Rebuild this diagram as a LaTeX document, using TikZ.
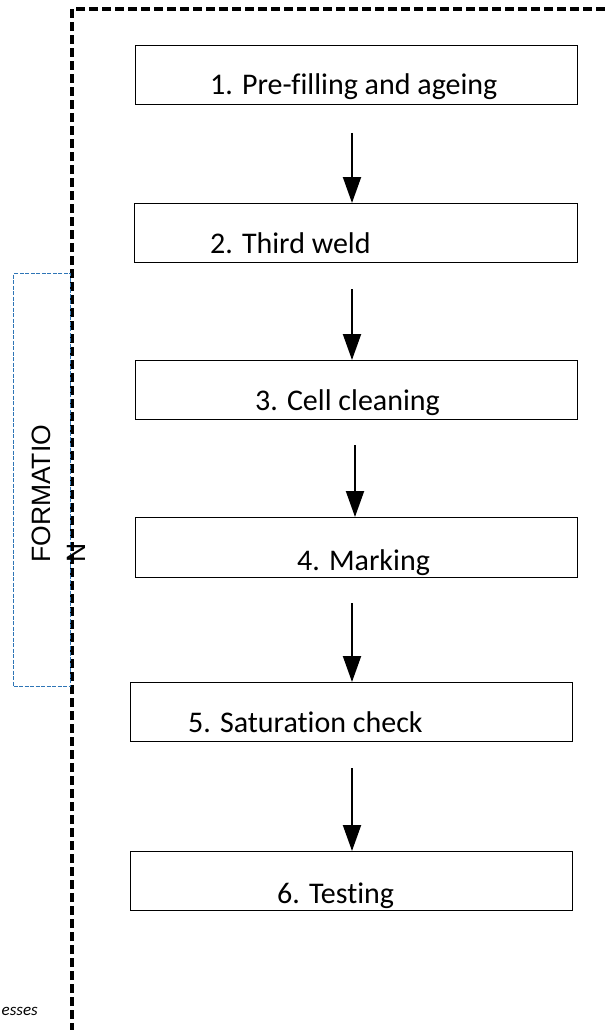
\documentclass[tikz,border=0pt]{standalone}
\usepackage{fontspec}
\setmainfont{Carlito}[Ligatures=NoCommon]
\newfontfamily\arialfont{Liberation Sans}
\usetikzlibrary{arrows.meta}
\definecolor{boxblue}{RGB}{46,117,182}
\begin{document}
\begin{tikzpicture}[x=1pt,y=-1pt,
  stepbox/.style={draw=black, line width=1.3pt, rectangle, inner sep=0pt,
    anchor=north west, minimum width=#1},
  stepbox/.default=442pt,
  steptext/.style={anchor=base west, inner sep=0pt, font=\fontsize{30}{36}\selectfont},
  flowarrow/.style={draw=black, line width=2pt, -{Triangle[length=26pt,width=18pt]}},
  outerframe/.style={draw=black, line width=3.4pt, dash pattern=on 9pt off 4pt},
  groupframe/.style={draw=boxblue, line width=1.3pt, dash pattern=on 4pt off 1.5pt}
]
\useasboundingbox (0,0) rectangle (608,1030);
\clip (0,0) rectangle (608,1030);

% outer dashed frame (runs past the right and bottom edges)
\coordinate (frameBL) at (72,1045);
\coordinate (frameTL) at (72,9);
\coordinate (frameTR) at (625,9);
\draw[outerframe] (frameBL) -- (frameTL) -- (frameTR);

% group label box
\node[groupframe, rectangle, inner sep=0pt, anchor=north west,
      minimum width=57pt, minimum height=413pt] (grp) at (13,273) {};
\node[rotate=90, anchor=north west, inner sep=0pt, align=left,
      font=\arialfont\fontsize{26.5}{35}\selectfont] (grplabel) at (32,563) {FORMATIO\\N};

% process steps
\node[stepbox, minimum height=59pt] (b1) at (135,45) {};
\node[steptext] (t1) at (210,95) {1. Pre-filling and ageing};

\node[stepbox=443pt, minimum height=59pt] (b2) at (134,203) {};
\node[steptext] (t2) at (210,253) {2. Third weld};

\node[stepbox, minimum height=59pt] (b3) at (135,360) {};
\node[steptext] (t3) at (255,410) {3. Cell cleaning};

\node[stepbox, minimum height=60pt] (b4) at (135,517) {};
\node[steptext] (t4) at (297,570) {4. Marking};

\node[stepbox, minimum height=59pt] (b5) at (130,682) {};
\node[steptext] (t5) at (188,732) {5. Saturation check};

\node[stepbox, minimum height=59pt] (b6) at (130,851) {};
\node[steptext] (t6) at (277,903) {6. Testing};

% arrows between steps
\coordinate (a1) at (352,133);
\coordinate (a2) at (352,289);
\coordinate (a3) at (355,445);
\coordinate (a4) at (352,603);
\coordinate (a5) at (352,768);
\draw[flowarrow] (a1) -- (a1 |- b2.north);
\draw[flowarrow] (a2) -- (a2 |- b3.north);
\draw[flowarrow] (a3) -- (a3 |- b4.north);
\draw[flowarrow] (a4) -- (a4 |- b5.north);
\draw[flowarrow] (a5) -- (a5 |- b6.north);

% caption fragment at the lower left
\node[anchor=base east, inner sep=0pt, font=\itshape\fontsize{17}{21}\selectfont] (cap) at (38,1015) {esses};
\end{tikzpicture}
\end{document}
